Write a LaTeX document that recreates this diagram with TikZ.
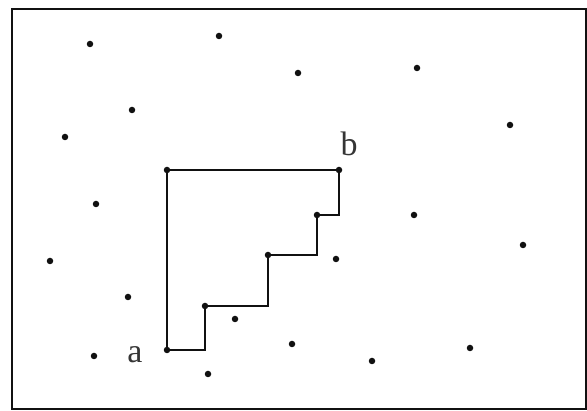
\documentclass[tikz,border=0pt]{standalone}
\usepackage{fontspec}
\setmainfont{Liberation Serif}
\usepackage{tikz}
\usetikzlibrary{calc}
\definecolor{inkx}{HTML}{111111}
\tikzset{
  pt/.style={circle,fill=inkx,inner sep=0pt,minimum size=6.5pt},
  edge/.style={inkx,line width=1.6pt},
  lbl/.style={font=\fontsize{34}{34}\selectfont,inner sep=0pt,text=inkx!85}
}
\begin{document}
\begin{tikzpicture}[x=1pt,y=-1pt]
\useasboundingbox (0,0) rectangle (587,411);
\draw[edge] (12,9) rectangle (586,409);
% staircase points
\node[pt] (a) at (167,350) {};
\node[pt] (s1) at (205,306) {};
\node[pt] (s2) at (268,255) {};
\node[pt] (s3) at (317,215) {};
\node[pt] (b) at (339,170) {};
\node[pt] (c) at (167,170) {};
\draw[edge] (a.center) -| (s1.center) -| (s2.center) -| (s3.center) -| (b.center) -- (c.center) -- (a.center);
% scattered points
\foreach \x/\y [count=\i] in {90/44,219/36,298/73,417/68,132/110,65/137,510/125,96/204,
  414/215,523/245,50/261,336/259,128/297,235/319,292/344,94/356,208/374,372/361,470/348}
  \node[pt] (q\i) at (\x,\y) {};
\node[lbl] at (135,355) {a};
\node[lbl] at (349,144) {b};
\end{tikzpicture}
\end{document}
